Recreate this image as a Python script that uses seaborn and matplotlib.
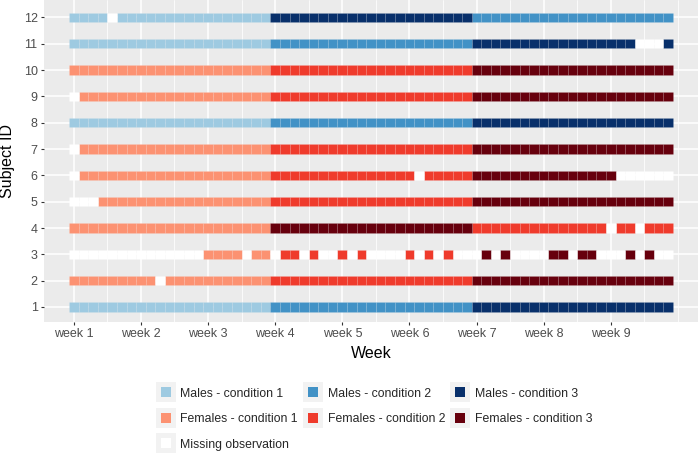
import matplotlib
matplotlib.use("Agg")
import matplotlib.pyplot as plt
from matplotlib.lines import Line2D
from matplotlib.ticker import MultipleLocator
import pandas as pd
import seaborn as sns

# subjects 1..12 (bottom to top), sex of each subject
subjects = list(range(1, 13))
sexes = ["M", "F", "F", "F", "F", "F", "F", "M", "F", "F", "M", "M"]

# one character per day (63 days, grouped by week): 1/2/3 = condition, . = missing
schedules = [
    "1111111 1111111 1111111 2222222 2222222 2222222 3333333 3333333 3333333",  # 1
    "1111111 11.1111 1111111 2222222 2222222 2222222 3333333 3333333 3333333",  # 2
    "....... ....... 1111.11 .22.2.. 2.2.... 2.2.2.. .3.3... .33.33. ..3.3..",  # 3
    "1111111 1111111 1111111 3333333 3333333 3333333 2222222 2222222 .22.222",  # 4
    "...1111 1111111 1111111 2222222 2222222 2222222 3333333 3333333 3333333",  # 5
    ".111111 1111111 1111111 2222222 2222222 2.22222 3333333 3333333 3......",  # 6
    ".111111 1111111 1111111 2222222 2222222 2222222 3333333 3333333 3333333",  # 7
    "1111111 1111111 1111111 2222222 2222222 2222222 3333333 3333333 3333333",  # 8
    ".111111 1111111 1111111 2222222 2222222 2222222 3333333 3333333 3333333",  # 9
    "1111111 1111111 1111111 2222222 2222222 2222222 3333333 3333333 3333333",  # 10
    "1111111 1111111 1111111 2222222 2222222 2222222 3333333 3333333 333...3",  # 11
    "1111.11 1111111 1111111 3333333 3333333 3333333 2222222 2222222 2222222",  # 12
]

week_starts = [1, 8, 15, 22, 29, 36, 43, 50, 57]
week_labels = ["week 1", "week 2", "week 3", "week 4", "week 5",
               "week 6", "week 7", "week 8", "week 9"]

categories = [
    "Males - condition 1", "Males - condition 2", "Males - condition 3",
    "Females - condition 1", "Females - condition 2", "Females - condition 3",
    "Missing observation",
]
colors = ["#9ECAE1", "#4292C6", "#08306B",
          "#FC9272", "#EF3B2C", "#67000D",
          "#FFFFFF"]
palette = dict(zip(categories, colors))


def build_frame() -> pd.DataFrame:
    rows = []
    sex_name = {"M": "Males", "F": "Females"}
    for subj, sex, sched in zip(subjects, sexes, schedules):
        for day, code in enumerate(sched.replace(" ", ""), start=1):
            if code == ".":
                cat = "Missing observation"
            else:
                cat = f"{sex_name[sex]} - condition {code}"
            rows.append({"subject": subj, "day": day, "category": cat})
    return pd.DataFrame(rows)


df = build_frame()

sns.set_theme(style="darkgrid", rc={
    "axes.facecolor": "#EBEBEB",
    "grid.color": "white",
    "axes.edgecolor": "#EBEBEB",
})
plt.rcParams["font.family"] = ["Liberation Sans", "DejaVu Sans"]

fig = plt.figure(figsize=(7, 4.55), dpi=100)
ax = fig.add_axes([44 / 700, 1 - 322 / 455, 654 / 700, 322 / 455])

for cat, grp in df.groupby("category"):
    ax.barh(grp["subject"], 1, left=grp["day"] - 0.5, height=0.36,
            color=palette[cat], edgecolor=(1, 1, 1, 0.12), linewidth=0.4,
            zorder=3)

ax.set_xlim(-2.11, 66.1)
ax.set_ylim(0.43, 12.66)
ax.set_xticks(week_starts, week_labels)
ax.set_yticks(subjects, [str(s) for s in subjects])
ax.xaxis.set_minor_locator(MultipleLocator(3.5, offset=1))
ax.grid(which="major", color="white", linewidth=1.1, zorder=0)
ax.grid(which="minor", axis="x", color="white", linewidth=0.55, zorder=0)
ax.set_axisbelow(True)
for s in ax.spines.values():
    s.set_visible(False)
ax.tick_params(axis="both", which="major", length=2.2, width=0.8, color="#333333",
               labelcolor="#4D4D4D", labelsize=9, pad=2.4, bottom=True, left=True)
ax.tick_params(axis="x", which="minor", length=0)
ax.set_xlabel("Week", fontsize=11.5, color="black", labelpad=4)
ax.set_ylabel("Subject ID", fontsize=11.5, color="black", labelpad=6)

# legend keys: grey key background with the tile colour on top
order = [0, 3, 6, 1, 4, 2, 5]
handles = []
for i in order:
    bg = Line2D([], [], marker="s", ms=15, color="#F2F2F2", ls="", mew=0)
    fg = Line2D([], [], marker="s", ms=7, color=colors[i], ls="", mew=0)
    handles.append((bg, fg))
fig.legend(handles, [categories[i] for i in order], loc="center",
           bbox_to_anchor=(0.534, 0.079), ncol=3, frameon=False,
           fontsize=8.8, handlelength=1.72, handleheight=1.0,
           handletextpad=0.33, columnspacing=0.4, labelspacing=1.06,
           borderaxespad=0, borderpad=0)

fig.savefig("out.png", dpi=100)
